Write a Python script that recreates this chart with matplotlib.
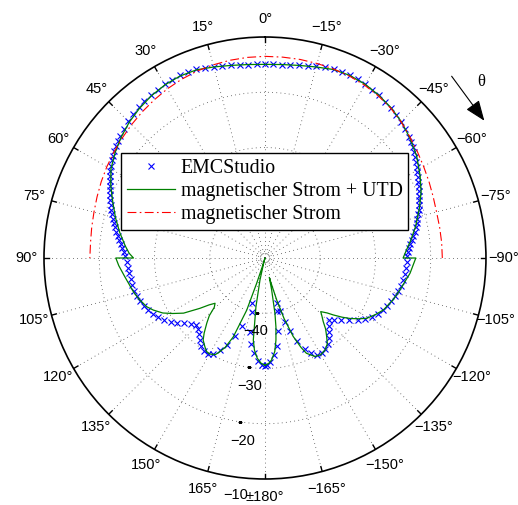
import numpy as np
import matplotlib
matplotlib.use("Agg")
import matplotlib.pyplot as plt

# Richtcharakteristik in dB, Winkel in Grad (0 oben, positiv nach links)
emc_theta = [-179, -177, -174.5, -172, -169.5, -167.5, -165.5, -164, -162.5, -161,
             -159, -156.5, -154, -151.5, -149, -146.5, -144, -141.5, -139, -136.5,
             -134, -131.5, -129, -126.5, -124, -121.5, -119, -116.5, -114, -111.5,
             -109, -106.5, -104, -101.5, -99, -96.5, -94, -91.5, -89, -87.5,
             -86, -84.5, -83, -81.5, -80, -78.5, -77, -75.5, -74, -72.5,
             -71, -69.5, -68, -66.5, -65, -63.5, -62, -60.5, -59, -57.5,
             -56, -54.5, -53, -51.5, -50, -47.5, -45, -42.5, -40, -37.5,
             -35, -32.5, -30, -27.5, -25, -22.5, -20, -17.5, -15, -12.5,
             -10, -7.5, -5, -2.5, 0,
             2.5, 5, 7.5, 10, 12.5, 15, 17.5, 20, 22.5, 25,
             27.5, 30, 32.5, 35, 37.5, 40, 42.5, 45, 47.5, 50,
             51.5, 53, 54.5, 56, 57.5, 59, 60.5, 62, 63.5, 65,
             66.5, 68, 69.5, 71, 72.5, 74, 75.5, 77, 78.5, 80,
             81.5, 83, 84.5, 86, 87.5, 89, 91.5, 94, 96.5, 99,
             101.5, 104, 106.5, 109, 111.5, 114, 116.5, 119, 121.5, 124,
             126.5, 129, 131.5, 134, 136.5, 139, 141.5, 144, 146.5, 149,
             151.5, 154, 156.5, 159, 161, 163.5, 166, 168.5, 171, 173.5,
             176, 178.5, 180]
emc_db = [-30.6, -31.2, -32.4, -33.9, -36.6, -40.1, -41.5, -40.0, -37.8, -36.0,
          -33.9, -32.0, -30.8, -30.1, -29.9, -30.2, -30.7, -31.4, -32.2, -33.1,
          -33.9, -33.2, -32.2, -31.1, -29.8, -28.7, -27.9, -27.2, -26.7, -26.3,
          -25.9, -25.5, -25.2, -24.95, -24.75, -24.5, -24.35, -24.2, -24.2, -24.0,
          -23.8, -23.55, -23.25, -22.9, -22.5, -22.15, -21.8, -21.5, -21.2, -20.85,
          -20.5, -20.15, -19.85, -19.55, -19.3, -19.0, -18.7, -18.4, -18.0, -17.6,
          -17.2, -16.85, -16.55, -16.25, -15.95, -15.55, -15.2, -14.85, -14.55, -14.3,
          -14.05, -13.85, -13.65, -13.5, -13.45, -13.5, -13.6, -13.8, -14.1, -14.4,
          -14.6, -14.75, -14.85, -14.9, -14.9,
          -14.9, -14.85, -14.75, -14.6, -14.4, -14.15, -13.85, -13.6, -13.5, -13.55,
          -13.6, -13.7, -13.85, -14.0, -14.15, -14.4, -14.75, -15.05, -15.4, -15.75,
          -16.0, -16.25, -16.5, -16.85, -17.15, -17.5, -17.85, -18.25, -18.6, -19.0,
          -19.35, -19.7, -20.05, -20.45, -20.85, -21.25, -21.6, -21.95, -22.3, -22.7,
          -23.1, -23.45, -23.75, -24.1, -24.4, -24.7, -24.95, -25.2, -25.3, -25.4,
          -25.5, -25.6, -25.75, -26.1, -26.5, -26.9, -27.35, -27.95, -28.6, -29.4,
          -30.3, -31.2, -32.1, -32.6, -32.4, -31.7, -31.0, -30.4, -29.9, -29.8,
          -30.3, -31.4, -32.9, -34.8, -37.0, -41.5, -40.0, -36.4, -34.2, -32.7,
          -31.4, -30.7, -30.5]

utd_theta = [-180, -178, -176.3, -174, -172.4, -171, -169.8, -168.2, -167.4, -166.5,
             -164.4, -162.5, -160.2, -158, -156.5, -153.1, -150, -146.9, -144, -141.9,
             -139.5, -137.5, -135.5, -133.9, -131.5, -129.8, -127.5, -125.4, -123, -120.7,
             -117, -113.7, -108, -103.3, -96, -90, -90, -87, -83, -78,
             -72, -67, -62, -56, -50, -45, -40, -35, -30, -25,
             -20, -15, -10, -5, 0, 5, 10, 15, 20, 25,
             30, 35, 40, 45, 50, 55, 60, 65, 70, 75,
             80, 85, 88, 90, 90, 93, 97.6, 104.3, 108, 112.4,
             115, 118.3, 121, 124.1, 127.7, 130, 132.2, 134.2, 136, 138.2,
             141, 143, 145.9, 148, 150, 152.7, 154, 156, 158.1, 160.7,
             161.8, 163, 164, 165.5, 167.2, 169.5, 171.9, 173.5, 175.6, 178,
             180]
utd_db = [-30.6, -30.9, -31.5, -33.0, -35.0, -37.3, -39.8, -44.1, -46.4, -45.5,
          -42.1, -38.5, -34.9, -32.5, -31.2, -30.0, -29.8, -30.1, -30.8, -31.9,
          -33.1, -34.4, -35.3, -36.0, -35.0, -33.9, -32.4, -31.1, -29.8, -28.6,
          -27.5, -26.6, -25.6, -24.9, -23.6, -22.7, -25.0, -24.4, -23.4, -22.1,
          -20.6, -19.3, -18.2, -16.9, -15.9, -15.1, -14.5, -14.05, -13.7, -13.55,
          -13.7, -14.2, -14.6, -14.85, -14.95, -14.85, -14.6, -14.2, -13.75, -13.65,
          -13.8, -14.15, -14.65, -15.25, -16.0, -16.85, -17.8, -19.2, -20.7, -22.0,
          -23.3, -24.6, -25.4, -26.2, -23.0, -23.5, -24.4, -25.4, -26.0, -26.85,
          -27.7, -29.0, -30.5, -32.2, -35.1, -36.8, -37.8, -37.2, -35.5, -34.2,
          -32.5, -31.4, -30.6, -30.05, -29.95, -30.3, -31.0, -32.3, -34.6, -40.0,
          -45.2, -48.5, -50.0, -49.0, -45.9, -41.0, -35.0, -33.2, -31.8, -30.9,
          -30.6]

mag_theta = [-90, -85, -80, -75, -70, -65, -60, -55, -50, -45,
             -40, -35, -30, -25, -20, -15, -10, -5, 0, 5,
             10, 15, 20, 25, 30, 35, 40, 45, 50, 55,
             60, 65, 70, 75, 80, 85, 90]
mag_db = [-17.9, -17.9, -17.9, -17.85, -17.6, -17.25, -16.85, -16.35, -15.8, -15.15,
          -14.6, -14.2, -13.9, -13.7, -13.6, -13.55, -13.5, -13.5, -13.5, -13.55,
          -13.65, -13.8, -14.0, -14.3, -14.65, -15.05, -15.45, -15.85, -16.25, -16.6,
          -16.95, -17.3, -17.65, -17.95, -18.15, -18.3, -18.3]

r_ticks = [-40, -30, -20, -10]
r_min, r_max = -50, -10

sans = ["Liberation Sans", "DejaVu Sans"]
serif = ["Liberation Serif", "DejaVu Serif"]

fig = plt.figure(figsize=(5.18, 5.05), dpi=100)
ax = fig.add_axes([0.0849, 0.0515, 0.8533, 0.8752], projection="polar")
ax.set_theta_zero_location("N")
ax.set_theta_direction(1)
ax.set_ylim(r_min, r_max)
ax.grid(False)
ax.set_xticks([])
ax.set_yticks([])
ax.spines["polar"].set_color("k")
ax.spines["polar"].set_linewidth(1.2)

# gepunktetes Gitter
dots = (0, (1, 4))
gcol = "0.3"
th = np.linspace(0, 2 * np.pi, 721)
for r in r_ticks[:-1] + [-48.8]:
    ax.plot(th, np.full_like(th, r), ls=dots, color=gcol, lw=0.6)
for a in range(0, 360, 15):
    t = np.deg2rad(a)
    ax.plot([t, t], [r_min, r_max], ls=dots, color=gcol, lw=0.6)
    ax.plot([t, t], [r_max - 0.9, r_max], color="k", lw=1.0)
    d = a if a <= 180 else a - 360
    if d == 180:
        lab = "\u00b1180\u00b0"
    else:
        lab = f"{d}\u00b0".replace("-", "\u2212")
    ax.text(t, r_max + 3.2, lab, ha="center", va="center", fontsize=10.5,
            family=sans, clip_on=False)

# Beschriftung der Radialachse
for r in r_ticks:
    ax.text(np.deg2rad(173), r + 3.3, f"{r}".replace("-", "\u2212"),
            ha="center", va="center", fontsize=10.5, family=sans, clip_on=False)
ax.plot(np.full(3, np.deg2rad(171.5)), r_ticks[:-1], ls="none", marker="_",
        ms=3, mew=0.9, color="k")

l1, = ax.plot(np.deg2rad(emc_theta), emc_db, ls="none", marker="x", ms=4.8,
              mew=0.8, color="b")
l2, = ax.plot(np.deg2rad(utd_theta), utd_db, color=(0, 0.5, 0), lw=0.9)
l3, = ax.plot(np.deg2rad(mag_theta), mag_db, color="r", lw=0.8,
              ls=(0, (8, 3, 1.5, 3)))

leg = ax.legend([l1, l2, l3],
                ["EMCStudio", "magnetischer Strom + UTD", "magnetischer Strom"],
                loc="upper left", bbox_to_anchor=(121 / 518, 1 - 153 / 505),
                bbox_transform=fig.transFigure, borderaxespad=0,
                prop=dict(family=serif, size=14.3), numpoints=1,
                fancybox=False, framealpha=1, edgecolor="k",
                borderpad=0.3, labelspacing=0.2, handlelength=2.4,
                handletextpad=0.3)
leg.get_frame().set_linewidth(1.0)

# Pfeil fuer die Zaehlrichtung von theta
fig.add_artist(matplotlib.patches.FancyArrowPatch(
    (450 / 518, 1 - 74 / 505), (486 / 518, 1 - 123 / 505),
    transform=fig.transFigure, arrowstyle="-|>,head_length=0.9,head_width=0.35",
    mutation_scale=14, color="k", lw=0.8))
fig.text(481 / 518, 1 - 82 / 505, "\u03b8", ha="center", va="center",
         fontsize=12, family=serif)

fig.savefig("out.png", dpi=100)
